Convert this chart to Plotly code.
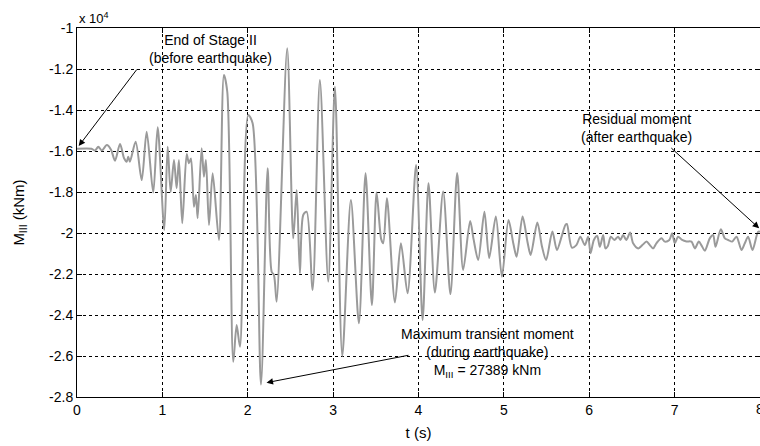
import plotly.graph_objects as go

# time (s)
t = [0, 0.17, 0.21, 0.25, 0.29, 0.35, 0.40, 0.445, 0.504, 0.55,
     0.582, 0.60, 0.62, 0.687, 0.758, 0.816, 0.893, 0.945, 1.022, 1.062,
     1.097, 1.136, 1.167, 1.194, 1.233, 1.285, 1.311, 1.335, 1.37, 1.393,
     1.413, 1.46, 1.487, 1.51, 1.546, 1.589, 1.663, 1.721, 1.76, 1.83,
     1.87, 1.909, 2.006, 2.057, 2.155, 2.233, 2.28, 2.307, 2.338, 2.462,
     2.533, 2.573, 2.611, 2.65, 2.69, 2.76, 2.845, 2.943, 3.021, 3.107,
     3.208, 3.302, 3.38, 3.454, 3.509, 3.563, 3.587, 3.63, 3.724, 3.794,
     3.872, 3.972, 4.048, 4.117, 4.192, 4.289, 4.374, 4.453, 4.523, 4.605,
     4.645, 4.699, 4.772, 4.828, 4.906, 4.977, 5.054, 5.112, 5.149, 5.219,
     5.279, 5.314, 5.392, 5.447, 5.495, 5.568, 5.621, 5.676, 5.72, 5.738,
     5.796, 5.849, 5.896, 5.948, 5.987, 6.015, 6.054, 6.093, 6.124, 6.163,
     6.189, 6.218, 6.253, 6.294, 6.338, 6.364, 6.397, 6.434, 6.479, 6.514,
     6.575, 6.622, 6.671, 6.71, 6.748, 6.788, 6.847, 6.885, 6.938, 6.971,
     7.002, 7.041, 7.088, 7.139, 7.198, 7.237, 7.283, 7.318, 7.354, 7.412,
     7.451, 7.479, 7.541, 7.588, 7.627, 7.674, 7.725, 7.783, 7.822, 7.861,
     7.912, 7.978, 8.0]

# moment M_III (kNm)
M = [-15890, -15890, -15980, -15790, -15980, -15710, -15950, -16470, -15660, -16340,
     -16520, -16280, -16520, -15550, -17420, -15060, -18030, -14840, -19850, -15790,
     -18000, -16440, -17820, -16440, -19530, -16150, -16600, -16360, -18720, -18150,
     -19280, -15870, -17250, -16440, -19610, -17090, -20340, -12290, -13110, -26280,
     -24490, -25550, -14240, -14650, -27389, -16840, -21890, -22050, -23350, -10990,
     -20260, -17900, -21970, -19120, -18960, -22780, -12540, -22370, -12860, -26000,
     -18390, -24400, -17090, -23510, -18020, -20300, -20500, -18300, -23390, -20500,
     -22940, -16680, -24240, -17570, -22900, -17980, -22980, -17070, -21800, -19410,
     -20300, -21320, -18960, -21220, -19200, -22130, -19370, -20540, -21160, -19200,
     -20490, -21070, -19490, -20670, -21320, -19930, -20830, -20180, -19610, -19560,
     -20710, -20590, -20180, -20590, -20180, -20990, -20340, -20150, -20670, -20100,
     -20750, -20630, -20180, -20340, -20180, -20340, -20100, -20340, -19980, -20500,
     -20750, -20590, -20420, -20590, -20750, -20490, -20260, -20420, -20340, -20010,
     -20500, -20180, -20340, -20410, -20420, -20750, -20420, -20630, -20860, -20260,
     -20100, -20670, -19820, -20260, -20340, -20420, -20180, -20830, -20500, -20180,
     -20830, -19940, -19940]

x_ticks = [0, 1, 2, 3, 4, 5, 6, 7, 8]
y_tickvals = [-10000, -12000, -14000, -16000, -18000, -20000, -22000, -24000, -26000, -28000]
y_ticktext = ["-1", "-1.2", "-1.4", "-1.6", "-1.8", "-2", "-2.2", "-2.4", "-2.6", "-2.8"]

FONT = "Liberation Sans, Arial, sans-serif"

fig = go.Figure()
fig.add_trace(go.Scatter(
    x=t, y=M, mode="lines",
    line=dict(color="#9a9a9a", width=2, shape="spline", smoothing=0.8),
    showlegend=False, hoverinfo="skip"))

axis_common = dict(
    showline=True, linecolor="black", linewidth=1, mirror="ticks",
    ticks="inside", ticklen=5, tickcolor="black",
    showgrid=True, gridcolor="black", griddash="dot", gridwidth=1,
    zeroline=False, tickfont=dict(family=FONT, size=14, color="black"),
)

fig.update_xaxes(range=[0, 8], tickvals=x_ticks, ticktext=[str(v) for v in x_ticks],
                 title=dict(text="t (s)", font=dict(family=FONT, size=15, color="black"),
                            standoff=10),
                 **axis_common)
fig.update_yaxes(range=[-28000, -10000], tickvals=y_tickvals, ticktext=y_ticktext,
                 title=dict(text="M<sub>III</sub> (kNm)", font=dict(family=FONT, size=15, color="black"),
                            standoff=20),
                 **axis_common)

anns = []
txt_font = dict(family=FONT, size=14, color="black")
# text labels
anns.append(dict(x=1.56, y=-11020, xref="x", yref="y", showarrow=False,
                 text="End of Stage II<br>(before earthquake)", font=txt_font,
                 align="center", xanchor="center", yanchor="middle"))
anns.append(dict(x=6.55, y=-14900, xref="x", yref="y", showarrow=False,
                 text="Residual moment<br>(after earthquake)", font=txt_font,
                 align="center", xanchor="center", yanchor="middle"))
anns.append(dict(x=4.81, y=-25850, xref="x", yref="y", showarrow=False,
                 text="Maximum transient moment<br>(during earthquake)<br>M<sub>III</sub> = 27389 kNm",
                 font=txt_font, align="center", xanchor="center", yanchor="middle"))
# arrows
arrow_style = dict(xref="x", yref="y", axref="x", ayref="y", text="", showarrow=True,
                   arrowhead=2, arrowsize=1.3, arrowwidth=1, arrowcolor="black")
anns.append(dict(x=0.02, y=-15760, ax=0.714, ay=-11950, **arrow_style))
anns.append(dict(x=7.99, y=-19770, ax=6.944, ay=-15790, **arrow_style))
anns.append(dict(x=2.22, y=-27300, ax=3.9, ay=-25950, **arrow_style))
# exponent label
anns.append(dict(x=0, y=1.0, xref="paper", yref="paper", xanchor="left", yanchor="bottom",
                 yshift=0, showarrow=False, text="x 10<sup>4</sup>",
                 font=dict(family=FONT, size=13, color="black")))
# last x tick label (partly outside the page, as in the reference)
anns.append(dict(x=8, y=0, xref="x", yref="paper", xanchor="center", yanchor="top",
                 yshift=-2, showarrow=False, text="8",
                 font=dict(family=FONT, size=14, color="black")))

fig.update_layout(
    width=760, height=446,
    margin=dict(l=77, r=0, t=28, b=49),
    paper_bgcolor="white", plot_bgcolor="white",
    annotations=anns,
)

fig.write_html("out.html")
